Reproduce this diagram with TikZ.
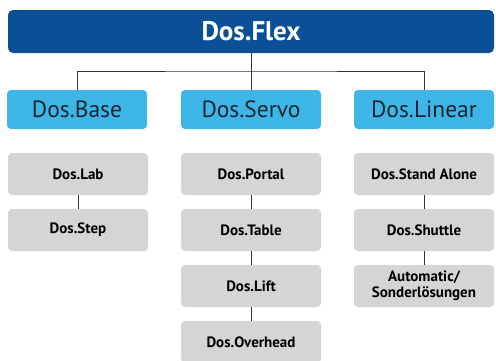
\documentclass[tikz,border=0pt]{standalone}
\usepackage{fontspec}
\setmainfont{PT Sans}
\usetikzlibrary{positioning}
\definecolor{flexblue}{HTML}{0B5096}
\definecolor{groupblue}{HTML}{3DB5E6}
\definecolor{itemgrey}{HTML}{D5D5D5}
\definecolor{linegrey}{HTML}{333333}
\definecolor{textgrey}{HTML}{1E2530}
\begin{document}
\begin{tikzpicture}[x=1pt, y=-1pt,
	flexbox/.style={fill=flexblue, rounded corners=5pt, minimum width=486pt, minimum height=43pt, text=white, font=\fontsize{27}{30}\selectfont\bfseries},
	groupbox/.style={fill=groupblue, rounded corners=4pt, minimum width=140pt, minimum height=39pt, text=textgrey, font=\fontsize{23.5}{25}\selectfont},
	itembox/.style={fill=itemgrey, rounded corners=4pt, minimum width=140pt, minimum height=42pt, align=center, text=black, font=\fontsize{15}{16}\selectfont\bfseries},
	link/.style={draw=linegrey, line width=1pt}]
\clip (0,0) rectangle (496,360);
\useasboundingbox (0,0) rectangle (496,360);

\node[flexbox] (flex) at (251, 31.5) {Dos.Flex};

\node[groupbox] (base) at (77, 109.5) {Dos.Base};
\node[groupbox] (servo) at (251, 109.5) {Dos.Servo};
\node[groupbox] (linear) at (424, 109.5) {Dos.Linear};

\coordinate (bus) at (251, 71);
\draw[link] (flex.south) -- (servo.north);
\draw[link] (base.north) |- (bus) -| (linear.north);

\node[itembox] (lab) at (78, 174) {Dos.Lab};
\node[itembox] (step) at (78, 230) {Dos.Step};

\node[itembox] (portal) at (251, 174) {Dos.Portal};
\node[itembox] (table) at (251, 230) {Dos.Table};
\node[itembox] (lift) at (251, 286) {Dos.Lift};
\node[itembox] (overhead) at (251, 342) {Dos.Overhead};

\node[itembox] (standalone) at (424, 174) {Dos.Stand Alone};
\node[itembox] (shuttle) at (424, 230) {Dos.Shuttle};
\node[itembox] (sonder) at (424, 286) {Automatic/\\Sonderlösungen};

\draw[link] (lab) -- (step);
\draw[link] (portal) -- (table);
\draw[link] (table) -- (lift);
\draw[link] (lift) -- (overhead);
\draw[link] (standalone) -- (shuttle);
\draw[link] (shuttle) -- (sonder);
\end{tikzpicture}
\end{document}
